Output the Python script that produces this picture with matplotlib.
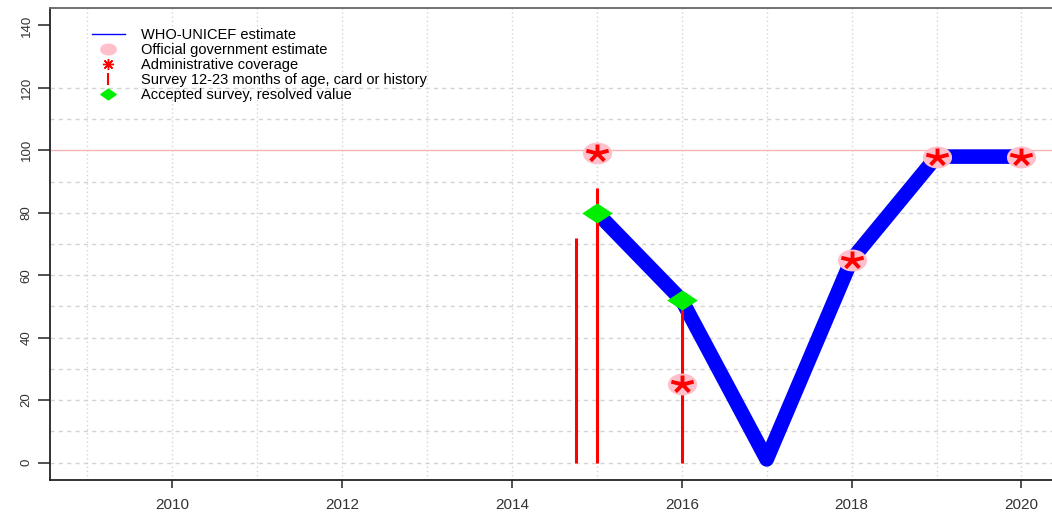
"""WHO-UNICEF coverage estimates, 2009-2020"""
import numpy as np
import matplotlib.pyplot as plt
from matplotlib.path import Path
from matplotlib.lines import Line2D

plt.rcParams['font.family'] = ['Liberation Sans', 'DejaVu Sans']

# WHO-UNICEF estimate
wuenic_years = [2015, 2016, 2017, 2018, 2019, 2020]
wuenic_vals = [80, 52, 1, 65, 98, 98]
# official government estimate / administrative coverage
gov_years = [2015, 2016, 2018, 2019, 2020]
gov_vals = [99, 25, 65, 98, 98]
admin_years = [2015, 2016, 2018, 2019, 2020]
admin_vals = [99, 25, 65, 98, 98]
# surveys, 12-23 months of age, card or history
survey_years = [2014.75, 2015, 2016]
survey_vals = [72, 88, 52]
# accepted survey, resolved value
accepted_years = [2015, 2016]
accepted_vals = [80, 52]

x_ticks = [2010, 2012, 2014, 2016, 2018, 2020]
y_ticks = [0, 20, 40, 60, 80, 100, 120, 140]


def ellipse_marker(ry):
    """ unit circle squashed vertically """
    t = np.linspace(0, 2 * np.pi, 60)
    return Path(np.column_stack([np.cos(t), ry * np.sin(t)]), closed=True)


def diamond_marker(ry):
    return Path([(1, 0), (0, ry), (-1, 0), (0, -ry), (1, 0)], closed=True)


def asterisk_marker(sx):
    """ five-armed asterisk, stretched sideways """
    verts, codes = [], []
    for a in np.radians([90, 18, 162, -54, 234]):
        verts += [(0, 0), (sx * np.cos(a), np.sin(a))]
        codes += [Path.MOVETO, Path.LINETO]
    return Path(verts, codes)


fig = plt.figure(figsize=(10.52, 5.13), dpi=100)
ax = fig.add_axes([0.0475, 0.0643, 0.959, 0.9201])
ax.set_xlim(2008.56, 2020.44)
ax.set_ylim(-5.6, 145.6)

# grid: dotted at every year, dashed every 10 up to 120
for yr in range(2009, 2021):
    ax.axvline(yr, color='#d3d3d3', lw=1, ls=(0, (1, 2)), zorder=0)
for yv in range(0, 130, 10):
    if yv != 100:
        ax.axhline(yv, color='#d3d3d3', lw=1, ls=(0, (3, 3)), zorder=0)
ax.axhline(100, color='#f4b4b4', lw=1, zorder=0)

ax.plot(wuenic_years, wuenic_vals, color='blue', lw=10.5,
        solid_capstyle='round', solid_joinstyle='round', zorder=2)
ax.vlines(survey_years, 0, survey_vals, color='red', lw=2.2, zorder=3)
ax.plot(accepted_years, accepted_vals, ls='none', marker=diamond_marker(0.66),
        ms=22, color='#00ee00', mec='none', zorder=4)
ax.plot(gov_years, gov_vals, ls='none', marker=ellipse_marker(0.75),
        ms=21, color='#ffc0cb', mec='none', zorder=4)
ax.plot(admin_years, admin_vals, ls='none', marker=asterisk_marker(1.3),
        ms=16, mfc='none', mec='red', mew=2.8, zorder=5)

ax.set_xticks(x_ticks)
ax.set_yticks(y_ticks)
ax.set_yticklabels([str(v) for v in y_ticks], rotation=90, va='center')
ax.tick_params(axis='x', length=6, width=1.2, color='#333333', labelsize=11,
               labelcolor='#333333', pad=7)
ax.tick_params(axis='y', length=8.5, width=1.2, color='#333333', labelsize=9.5,
               labelcolor='#333333', pad=4)
for side in ['left', 'bottom', 'top']:
    ax.spines[side].set_linewidth(1.3)
    ax.spines[side].set_color('#222222')
ax.spines['top'].set_color('#666666')

handles = [
    Line2D([], [], color='blue', lw=1),
    Line2D([], [], ls='none', marker=ellipse_marker(0.7), ms=11, color='#ffc0cb'),
    Line2D([], [], ls='none', marker=(8, 2, 0), ms=8, mec='red', mew=1),
    Line2D([], [], ls='none', marker='|', ms=9, mec='red', mew=1.5),
    Line2D([], [], ls='none', marker=diamond_marker(0.7), ms=11, color='#00ee00'),
]
labels = ['WHO-UNICEF estimate', 'Official government estimate',
          'Administrative coverage', 'Survey 12-23 months of age, card or history',
          'Accepted survey, resolved value']
ax.legend(handles, labels, loc='upper left', bbox_to_anchor=(0.087, 0.945),
          bbox_transform=fig.transFigure, frameon=False, fontsize=10.5,
          handlelength=2.3, handletextpad=1.1, labelspacing=0.06,
          borderpad=0, borderaxespad=0)

fig.savefig('out.png', dpi=100)
